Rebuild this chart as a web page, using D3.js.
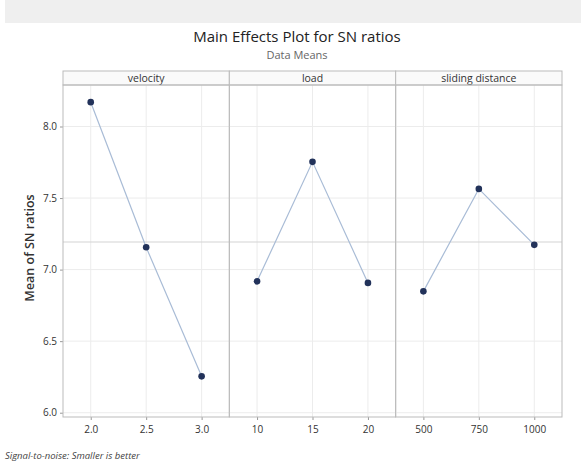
<!DOCTYPE html>
<html>
<head>
<meta charset="utf-8">
<script src="https://cdn.jsdelivr.net/npm/d3@7"></script>
<style>
  body { margin: 0; background: #fff; }
  svg { display: block; font-family: "Open Sans", "DejaVu Sans", sans-serif; }
</style>
</head>
<body>
<svg id="chart" width="581" height="463"></svg>
<script>
// factors and their levels
var factors = ["velocity", "load", "sliding distance"];
var velocityLevels = ["2.0", "2.5", "3.0"];
var loadLevels = ["10", "15", "20"];
var distanceLevels = ["500", "750", "1000"];

// mean SN ratio at each level
var velocityMeans = [8.17, 7.156, 6.254];
var loadMeans = [6.918, 7.753, 6.907];
var distanceMeans = [6.848, 7.564, 7.173];

var yTicks = [6.0, 6.5, 7.0, 7.5, 8.0];
var grandMean = 7.193;

var panels = [
    {name: factors[0], levels: velocityLevels, means: velocityMeans},
    {name: factors[1], levels: loadLevels, means: loadMeans},
    {name: factors[2], levels: distanceLevels, means: distanceMeans}
];

var svg = d3.select("#chart");

// grey band along the top
svg.append("rect")
    .attr("x", 5).attr("y", 0)
    .attr("width", 576).attr("height", 23)
    .attr("fill", "#efefef");

svg.append("text")
    .attr("x", 297).attr("y", 42)
    .attr("text-anchor", "middle")
    .attr("font-size", 15)
    .attr("fill", "#222")
    .text("Main Effects Plot for SN ratios");

svg.append("text")
    .attr("x", 297).attr("y", 59)
    .attr("text-anchor", "middle")
    .attr("font-size", 11)
    .attr("fill", "#666")
    .text("Data Means");

var left = 63, right = 562, stripTop = 71, plotTop = 85, plotBottom = 417;
var panelW = (right - left) / panels.length;

var y = d3.scaleLinear().domain([5.97, 8.29]).range([plotBottom, plotTop]);

// y axis
svg.append("g")
    .attr("transform", `translate(${left},0)`)
    .call(d3.axisLeft(y).tickValues(yTicks).tickFormat(d3.format(".1f")).tickSize(3))
    .call(g => g.select(".domain").remove())
    .call(g => g.selectAll("line").attr("stroke", "#999"))
    .call(g => g.selectAll("text").attr("font-size", 10).attr("fill", "#333")
        .attr("font-family", "Open Sans, sans-serif"));

svg.append("text")
    .attr("transform", "translate(34,248) rotate(-90)")
    .attr("text-anchor", "middle")
    .attr("font-size", 12.5)
    .attr("font-weight", "600")
    .attr("fill", "#333")
    .text("Mean of SN ratios");

var line = d3.line();

panels.forEach(function (p, i) {
    var x0 = left + i * panelW;
    var x = d3.scalePoint().domain(p.levels).range([0, panelW]).padding(0.5);
    var g = svg.append("g").attr("transform", `translate(${x0},0)`);

    // grid
    g.selectAll(".hgrid")
        .data(yTicks)
        .enter().append("line")
        .attr("x1", 0).attr("x2", panelW)
        .attr("y1", d => y(d)).attr("y2", d => y(d))
        .attr("stroke", "#ececec");
    g.selectAll(".vgrid")
        .data(p.levels)
        .enter().append("line")
        .attr("x1", d => x(d)).attr("x2", d => x(d))
        .attr("y1", plotTop).attr("y2", plotBottom)
        .attr("stroke", "#ececec");

    // grand mean reference
    g.append("line")
        .attr("x1", 0).attr("x2", panelW)
        .attr("y1", y(grandMean)).attr("y2", y(grandMean))
        .attr("stroke", "#d4d4d4").attr("stroke-width", 1.2);

    // x axis
    g.append("g")
        .attr("transform", `translate(0,${plotBottom})`)
        .call(d3.axisBottom(x).tickSize(3).tickPadding(6))
        .call(g => g.select(".domain").remove())
        .call(g => g.selectAll("line").attr("stroke", "#999"))
        .call(g => g.selectAll("text").attr("font-size", 10).attr("fill", "#333")
            .attr("font-family", "Open Sans, sans-serif"));

    // strip
    g.append("rect")
        .attr("x", 0).attr("y", stripTop)
        .attr("width", panelW).attr("height", plotTop - stripTop)
        .attr("fill", "#fafafa").attr("stroke", "#bbb");
    g.append("text")
        .attr("x", panelW / 2).attr("y", stripTop + 11)
        .attr("text-anchor", "middle")
        .attr("font-size", 10.5)
        .attr("fill", "#333")
        .text(p.name);

    // panel frame
    g.append("rect")
        .attr("x", 0).attr("y", plotTop)
        .attr("width", panelW).attr("height", plotBottom - plotTop)
        .attr("fill", "none").attr("stroke", "#bbb");

    var pts = p.levels.map((l, j) => [x(l), y(p.means[j])]);
    g.append("path")
        .attr("d", line(pts))
        .attr("fill", "none")
        .attr("stroke", "#a9bcd6")
        .attr("stroke-width", 1.2);
    g.selectAll("circle")
        .data(pts)
        .enter().append("circle")
        .attr("cx", d => d[0]).attr("cy", d => d[1])
        .attr("r", 3.3)
        .attr("fill", "#22325a");
});

svg.append("text")
    .attr("x", 5).attr("y", 459)
    .attr("font-size", 9.5)
    .attr("font-style", "italic")
    .attr("fill", "#444")
    .text("Signal-to-noise: Smaller is better");
</script>
</body>
</html>
